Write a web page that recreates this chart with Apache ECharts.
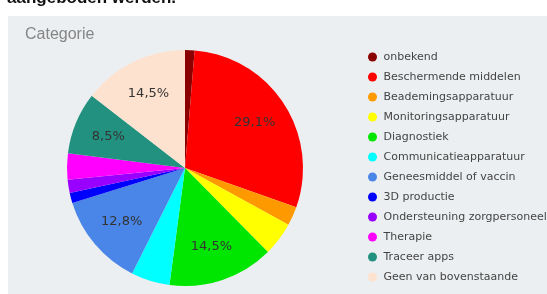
<!DOCTYPE html>
<html>
<head>
<meta charset="utf-8">
<script src="https://cdn.jsdelivr.net/npm/echarts@6/dist/echarts.min.js"></script>
<style>
  html, body { margin: 0; padding: 0; background: #fff; }
  #container { width: 547px; height: 294px; }
</style>
</head>
<body>
<div id="container"></div>
<script>
// categorieën en percentages (met de klok mee vanaf boven)
const categories = [
    'onbekend', 'Beschermende middelen', 'Beademingsapparatuur', 'Monitoringsapparatuur',
    'Diagnostiek', 'Communicatieapparatuur', 'Geneesmiddel of vaccin', '3D productie',
    'Ondersteuning zorgpersoneel', 'Therapie', 'Traceer apps', 'Geen van bovenstaande'
];
const values = [1.3, 29.1, 2.6, 4.6, 14.5, 5.3, 12.8, 1.4, 1.8, 3.6, 8.5, 14.5];
const colors = [
    '#8b0000', '#ff0000', '#ff9900', '#ffff00', '#00e600', '#00ffff',
    '#4a86e8', '#0000ff', '#9900ff', '#ff00ff', '#22917f', '#fde2cf'
];
const labelMin = 8;

class ChartGenerator {
    constructor(containerId) {
        this.container = document.getElementById(containerId);
        this.chart = echarts.init(this.container, null, { renderer: 'canvas' });

        const data = categories.map((name, i) => ({
            name: name,
            value: values[i],
            itemStyle: { color: colors[i] }
        }));

        this.option = {
            animation: false,
            graphic: [
                {
                    type: 'rect',
                    shape: { x: 8, y: 16, width: 547, height: 290 },
                    style: { fill: '#eceff1' },
                    z: -10
                },
                {
                    type: 'text',
                    left: 7,
                    top: -10,
                    style: {
                        text: 'aangeboden werden.',
                        fontFamily: 'Liberation Sans',
                        fontSize: 17,
                        fontWeight: 'bold',
                        fill: '#111'
                    }
                }
            ],
            title: {
                text: 'Categorie',
                left: 20,
                top: 22,
                textStyle: {
                    fontFamily: 'Liberation Sans',
                    fontSize: 16,
                    fontWeight: 'normal',
                    color: '#858585'
                }
            },
            legend: {
                orient: 'vertical',
                left: 363,
                top: 46,
                icon: 'circle',
                itemWidth: 12,
                itemHeight: 9,
                itemGap: 8,
                selectedMode: false,
                data: categories,
                textStyle: {
                    fontFamily: 'DejaVu Sans',
                    fontSize: 11,
                    lineHeight: 12,
                    color: '#444'
                }
            },
            series: [
                {
                    name: 'Categorie',
                    type: 'pie',
                    center: [185, 168],
                    radius: [0, 118],
                    startAngle: 90,
                    clockwise: true,
                    label: { show: false },
                    labelLine: { show: false },
                    emphasis: { disabled: true },
                    data: data
                },
                {
                    // alleen de labels, iets verder naar buiten
                    name: 'labels',
                    type: 'pie',
                    center: [185, 168],
                    radius: [42, 118],
                    startAngle: 90,
                    clockwise: true,
                    silent: true,
                    legendHoverLink: false,
                    itemStyle: { color: 'rgba(0,0,0,0)' },
                    label: {
                        show: true,
                        position: 'inside',
                        fontFamily: 'DejaVu Sans',
                        fontSize: 13,
                        color: '#333',
                        formatter(p) {
                            return p.value >= labelMin ? String(p.value).replace('.', ',') + '%' : '';
                        }
                    },
                    labelLine: { show: false },
                    data: categories.map((name, i) => ({ name: name, value: values[i] }))
                }
            ]
        };

        this.chart.setOption(this.option);
        window.addEventListener('resize', () => this.chart.resize());
    }
}

const chartInstance = new ChartGenerator('container');
</script>
</body>
</html>
